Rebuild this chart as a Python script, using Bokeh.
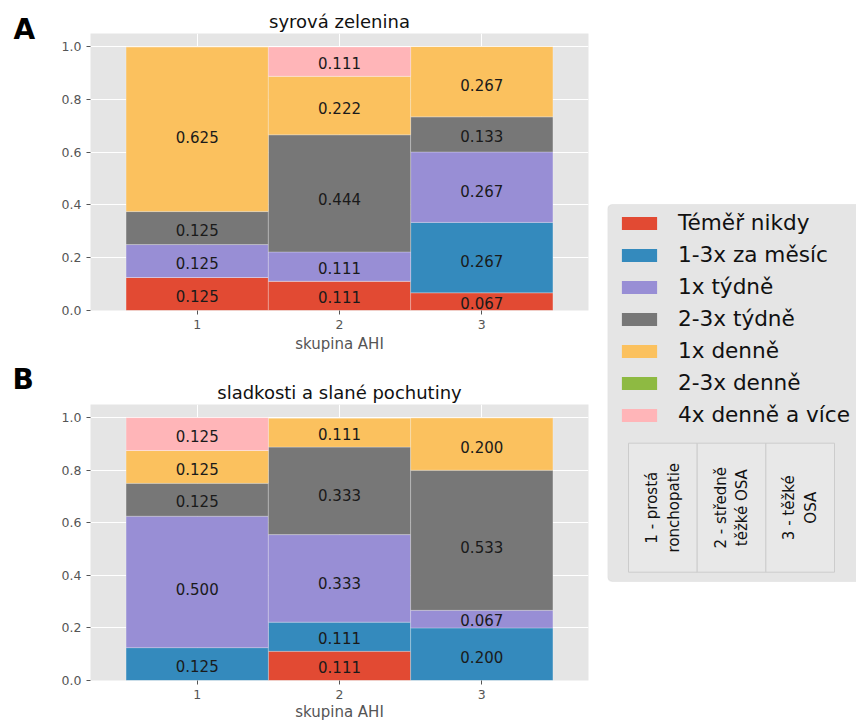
import math
from bokeh.plotting import figure
from bokeh.models import (ColumnDataSource, FixedTicker, Range1d, Legend, LegendItem,
                          BoxAnnotation, NumeralTickFormatter)
from bokeh.layouts import row, column
from bokeh.embed import file_html
from bokeh.resources import INLINE
from bokeh.core.properties import value

# ---------------- data ----------------
groups = [1, 2, 3]
x_axis_label = "skupina AHI"
categories = ["Téměř nikdy", "1-3x za měsíc", "1x týdně", "2-3x týdně",
              "1x denně", "2-3x denně", "4x denně a více"]
colors = ["#E24A33", "#348ABD", "#988ED5", "#777777", "#FBC15E", "#8EBA42", "#FFB5B8"]
y_ticks = [0.0, 0.2, 0.4, 0.6, 0.8, 1.0]

title_a = "syrová zelenina"
zel_temer_nikdy = [0.125, 0.111, 0.067]
zel_za_mesic = [0.0, 0.0, 0.267]
zel_1x_tydne = [0.125, 0.111, 0.267]
zel_23x_tydne = [0.125, 0.444, 0.133]
zel_1x_denne = [0.625, 0.222, 0.267]
zel_23x_denne = [0.0, 0.0, 0.0]
zel_4x_denne = [0.0, 0.111, 0.0]

title_b = "sladkosti a slané pochutiny"
sla_temer_nikdy = [0.0, 0.111, 0.0]
sla_za_mesic = [0.125, 0.111, 0.200]
sla_1x_tydne = [0.500, 0.333, 0.067]
sla_23x_tydne = [0.125, 0.333, 0.533]
sla_1x_denne = [0.125, 0.111, 0.200]
sla_23x_denne = [0.0, 0.0, 0.0]
sla_4x_denne = [0.125, 0.0, 0.0]

panel_letters = ["A", "B"]
table_labels = ["1 - prostá\nronchopatie", "2 - středně\ntěžké OSA", "3 - těžké\nOSA"]

FONT = "DejaVu Sans"
GREY = "#555555"


def make_panel(title, series, border_top, frame_h, label_standoff, axis_label_standoff):
    data = {"x": groups}
    keys = []
    for i, s in enumerate(series):
        k = "c%d" % i
        data[k] = s
        keys.append(k)
    src = ColumnDataSource(data)

    p = figure(frame_width=498, frame_height=frame_h,
               min_border_left=50, min_border_right=10,
               min_border_top=border_top, min_border_bottom=10,
               x_range=Range1d(0.25, 3.75), y_range=Range1d(0, 1.05),
               toolbar_location=None, output_backend="svg", title=title)
    p.background_fill_color = "#E5E5E5"
    p.border_fill_color = "white"
    p.outline_line_color = None

    p.vbar_stack(keys, x="x", width=1.0, source=src, fill_color=colors,
                 line_color="white", line_alpha=0.25, line_width=1)

    # value labels
    lx, ly, lt = [], [], []
    for j, g in enumerate(groups):
        bottom = 0.0
        for s in series:
            v = s[j]
            if v > 0:
                lx.append(g)
                ly.append(bottom + 0.45 * v)
                lt.append("%.3f" % v)
            bottom += v
    p.text(x="x", y="y", text="t", source=ColumnDataSource(dict(x=lx, y=ly, t=lt)),
           text_align="center", text_baseline="middle", text_font_size="15px",
           text_color="#1a1a1a", text_font=value(FONT))

    p.title.align = "center"
    p.title.text_font = FONT
    p.title.text_font_size = "18px"
    p.title.text_font_style = "normal"
    p.title.text_color = "#111111"
    p.title.standoff = 3

    p.xaxis.ticker = FixedTicker(ticks=groups)
    p.yaxis.ticker = FixedTicker(ticks=y_ticks)
    p.yaxis.formatter = NumeralTickFormatter(format="0.0")
    p.xaxis.axis_label = x_axis_label
    for ax in p.axis:
        ax.axis_line_color = None
        ax.major_tick_line_color = GREY
        ax.major_tick_out = 4
        ax.major_tick_in = 0
        ax.minor_tick_line_color = None
        ax.major_label_text_color = GREY
        ax.major_label_text_font = FONT
        ax.major_label_text_font_size = "12.5px"
        ax.axis_label_text_color = GREY
        ax.axis_label_text_font = FONT
        ax.axis_label_text_font_size = "15px"
        ax.axis_label_text_font_style = "normal"
    p.xaxis.major_label_standoff = label_standoff
    p.yaxis.major_label_standoff = 5
    p.xaxis.axis_label_standoff = axis_label_standoff
    p.xgrid.grid_line_color = "white"
    p.ygrid.grid_line_color = "white"
    return p


pa = make_panel(title_a, [zel_temer_nikdy, zel_za_mesic, zel_1x_tydne, zel_23x_tydne,
                          zel_1x_denne, zel_23x_denne, zel_4x_denne], 33, 277, 5, 3)
pb = make_panel(title_b, [sla_temer_nikdy, sla_za_mesic, sla_1x_tydne, sla_23x_tydne,
                          sla_1x_denne, sla_23x_denne, sla_4x_denne], 49, 276, 5, 1)

# ---------------- panel letters strip (left) ----------------
SH = 720
strip = figure(frame_width=40, frame_height=SH,
               min_border_left=0, min_border_right=0, min_border_top=0, min_border_bottom=0,
               x_range=Range1d(0, 40), y_range=Range1d(0, SH),
               toolbar_location=None, output_backend="svg")
strip.axis.visible = False
strip.grid.visible = False
strip.outline_line_color = None
strip.background_fill_color = None
strip.border_fill_color = None
# letter baselines, measured down from the top of the strip
strip.text(x=[13, 12], y=[SH - 29, SH - 379], text=panel_letters,
           text_align="left", text_baseline="alphabetic",
           text_font=value(FONT), text_font_size="28px", text_font_style="bold",
           text_color="black")

# ---------------- legend panel ----------------
LW, LH = 249, 382
lg = figure(frame_width=LW, frame_height=LH, min_border_left=9, min_border_right=0,
            min_border_top=200, min_border_bottom=0,
            x_range=Range1d(0, LW), y_range=Range1d(0, LH),
            toolbar_location=None, output_backend="svg")
lg.axis.visible = False
lg.grid.visible = False
lg.outline_line_color = None
lg.background_fill_color = None
lg.border_fill_color = None

lg.add_layout(BoxAnnotation(left=0, right=LW + 6, bottom=1, top=LH - 4,
                            fill_color="#E5E5E5", fill_alpha=1.0,
                            line_color="#CCCCCC", line_width=1.2,
                            border_radius=5, level="underlay"))

items = []
for cat, col in zip(categories, colors):
    r = lg.vbar(x=[-100], top=[0], width=1, fill_color=col, line_color=None)
    items.append(LegendItem(label=cat, renderers=[r]))
legend = Legend(items=items, location="top_left", margin=10, padding=0, spacing=7,
                glyph_width=44, glyph_height=16, label_standoff=17,
                label_text_font=FONT, label_text_font_size="21.6px",
                label_text_color="#111111",
                border_line_color=None, background_fill_alpha=0.0)
lg.add_layout(legend)

# table of group descriptions
t_left, t_width, t_bottom, t_top = 21, 206, 10.3, 139.3
cw = t_width / 3.0
lefts = [t_left + i * cw for i in range(3)]
lg.quad(left=lefts, right=[l + cw for l in lefts], bottom=t_bottom, top=t_top,
        fill_color="#E8E8E8", line_color="#CCCCCC", line_width=1)
lg.text(x=[l + cw / 2 for l in lefts], y=(t_bottom + t_top) / 2, text=table_labels,
        angle=math.pi / 2, text_align="center", text_baseline="middle",
        text_font=value(FONT), text_font_size="15px", text_color="#111111",
        text_line_height=1.2)

layout = row(column(strip), column(pa, pb), column(lg))
open("out.html", "w").write(file_html(layout, INLINE))
